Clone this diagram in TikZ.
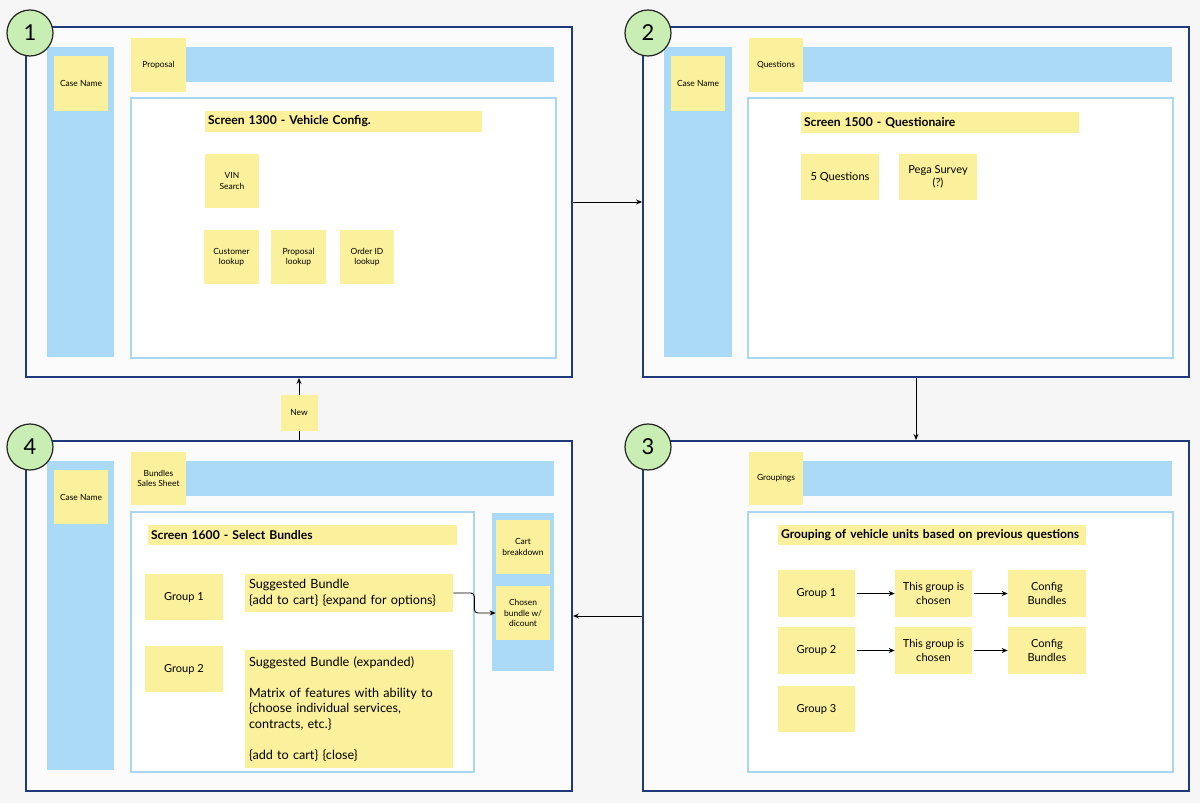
\documentclass[tikz,border=0pt]{standalone}
\usepackage{fontspec}
\setmainfont{Lato}
\usetikzlibrary{arrows.meta,positioning,fit}
\definecolor{PageGrey}{HTML}{F6F6F7}
\definecolor{PanelNavy}{HTML}{1E3A7B}
\definecolor{PanelFill}{HTML}{FBFBFC}
\definecolor{BarBlue}{HTML}{ABDAF7}
\definecolor{FrameBlue}{HTML}{A9D6F0}
\definecolor{StickyYellow}{HTML}{FBF09B}
\definecolor{BadgeGreen}{HTML}{C9EEB4}
\newcommand{\fsmall}{\fontsize{4.8}{5.8}\selectfont}
\newcommand{\fmid}{\fontsize{6.3}{7.6}\selectfont}
\newcommand{\fbig}{\fontsize{7.2}{8.8}\selectfont}
\newcommand{\ftitle}{\fontsize{6.9}{8}\selectfont\bfseries}
\newcommand{\fbadge}{\fontsize{12.5}{14}\selectfont}
\tikzset{
  sz/.style 2 args={minimum width=#1*0.2mm, minimum height=#2*0.2mm},
  note/.style={fill=StickyYellow, inner sep=0pt, align=center, font=\fsmall},
  notemid/.style={note, font=\fmid},
  notebig/.style={note, font=\fbig, align=left, inner xsep=0.8mm},
  titlebar/.style={note, font=\ftitle, align=left, inner xsep=0.6mm},
  bar/.style={fill=BarBlue, inner sep=0pt},
  screen/.style={draw=PanelNavy, line width=1.1pt, fill=PanelFill, inner sep=0pt},
  content/.style={draw=FrameBlue, line width=0.9pt, fill=white, inner sep=0pt},
  badge/.style={circle, draw=black!85, line width=0.7pt, fill=BadgeGreen, minimum size=9.2mm, inner sep=0pt, font=\fbadge},
  arrow/.style={-{Stealth[length=1.2mm, width=1mm]}, line width=0.5pt, draw=black}
}
\begin{document}
\begin{tikzpicture}[x=0.02cm, y=-0.02cm]
    \path[use as bounding box, fill=PageGrey] (0,0) rectangle (1200,803);

    % screen 1
    \node[screen, fit={(26,27) (572,377)}] (p1) {};
    \node[bar, fit={(47,47) (114,357)}] (side1) {};
    \node[bar, fit={(186,47) (554,82)}] (top1) {};
    \node[content, fit={(131,98) (556,358)}] (body1) {};
    \node[note, sz={54}{55}] (case1) at (81,83.5) {Case Name};
    \node[note, sz={55}{54}] (tab1) at (158.5,65) {Proposal};
    \node[titlebar, text width=54.2mm, minimum height=4.2mm] (head1) at (343.5,121.5) {Screen 1300 - Vehicle Config.};
    \node[note, sz={54}{54}] (vin) at (232,181) {VIN\\Search};
    \node[note, sz={55}{54}] (cust) at (231.5,257) {Customer\\lookup};
    \node[note, sz={55}{54}] (prop) at (298.5,257) {Proposal\\lookup};
    \node[note, sz={54}{54}] (order) at (367,257) {Order ID\\lookup};

    % screen 2
    \node[screen, fit={(643,27) (1189,377)}] (p2) {};
    \node[bar, fit={(664,47) (732,357)}] (side2) {};
    \node[bar, fit={(803,47) (1172,82)}] (top2) {};
    \node[content, fit={(748,98) (1173,358)}] (body2) {};
    \node[note, sz={54}{55}] (case2) at (698,83.5) {Case Name};
    \node[note, sz={54}{54}] (tab2) at (776,65) {Questions};
    \node[titlebar, text width=54.4mm, minimum height=4.2mm] (head2) at (940,122.5) {Screen 1500 - Questionaire};
    \node[notemid, sz={78}{46}] (five) at (840,177) {5 Questions};
    \node[notemid, sz={78}{46}] (pega) at (938,177) {Pega Survey\\(?)};

    % screen 3
    \node[screen, fit={(643,441) (1189,791)}] (p3) {};
    \node[bar, fit={(803,461) (1172,496)}] (top3) {};
    \node[content, fit={(748,512) (1173,772)}] (body3) {};
    \node[note, sz={54}{53}] (tab3) at (776,478.5) {Groupings};
    \node[titlebar, text width=60.4mm, minimum height=4mm] (head3) at (932,535) {Grouping of vehicle units based on previous questions};
    \node[notemid, sz={77}{47}] (g31) at (816.5,593.5) {Group 1};
    \node[notemid, sz={77}{47}] (pick31) at (933.5,593.5) {This group is\\chosen};
    \node[notemid, sz={78}{47}] (cfg31) at (1047,593.5) {Config\\Bundles};
    \node[notemid, sz={77}{47}] (g32) at (816.5,650.5) {Group 2};
    \node[notemid, sz={77}{47}] (pick32) at (933.5,650.5) {This group is\\chosen};
    \node[notemid, sz={78}{47}] (cfg32) at (1047,650.5) {Config\\Bundles};
    \node[notemid, sz={77}{46}] (g33) at (816.5,709) {Group 3};

    % screen 4
    \node[screen, fit={(26,441) (572,791)}] (p4) {};
    \node[bar, fit={(47,461) (114,770)}] (side4) {};
    \node[bar, fit={(186,461) (554,496)}] (top4) {};
    \node[content, fit={(131,512) (474,772)}] (body4) {};
    \node[bar, fit={(492,513) (554,671)}] (cart4) {};
    \node[note, sz={54}{54}] (case4) at (81,497) {Case Name};
    \node[note, sz={55}{53}] (tab4) at (158.5,478.5) {Bundles\\Sales Sheet};
    \node[titlebar, text width=60.6mm, minimum height=4mm] (head4) at (302.5,535) {Screen 1600 - Select Bundles};
    \node[notemid, sz={78}{46}] (g41) at (184,597) {Group 1};
    \node[notemid, sz={78}{46}] (g42) at (184,669) {Group 2};
    \node[notebig, text width=40mm, minimum height=7.6mm] (sb1) at (349,593) {Suggested Bundle\\\{add to cart\} \{expand for options\}};
    \node[notebig, text width=40mm, minimum height=23.6mm] (sb2) at (349,709) {Suggested Bundle (expanded)\\[8.8pt]Matrix of features with ability to\\\{choose individual services,\\contracts, etc.\}\\[8.8pt]\{add to cart\} \{close\}};
    \node[note, sz={54}{54}] (cart) at (523,547) {Cart\\breakdown};
    \node[note, sz={54}{54}] (chosen) at (523,613) {Chosen\\bundle w/\\dicount};

    % step badges
    \node[badge] (b1) at (30,33) {1};
    \node[badge] (b2) at (648,33) {2};
    \node[badge] (b3) at (648,447) {3};
    \node[badge] (b4) at (30,447) {4};

    % flow
    \draw[arrow] (p1.east) -- (p2.west);
    \draw[arrow] (p2.south) -- (p3.north);
    \draw[arrow] (p3.west) -- (p4.east);
    \draw[arrow] (p4.north) -- node[note, pos=0.44, sz={37}{36}] (new) {New} (p1.south);
    \draw[arrow, shorten <=1pt] (g31) -- (pick31);
    \draw[arrow, shorten <=1pt] (pick31) -- (cfg31);
    \draw[arrow, shorten <=1pt] (g32) -- (pick32);
    \draw[arrow, shorten <=1pt] (pick32) -- (cfg32);
    \draw[arrow, rounded corners=2pt] (sb1.east) -- ++(21,0) |- (chosen.west);
\end{tikzpicture}
\end{document}
